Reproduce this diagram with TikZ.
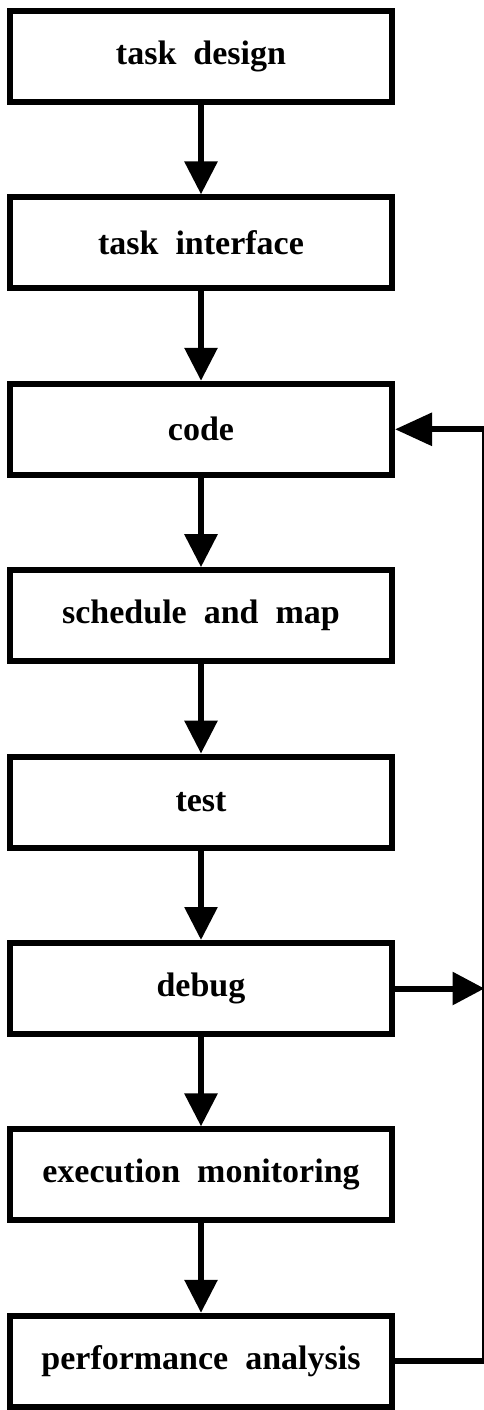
\documentclass[tikz,border=0pt]{standalone}
\usepackage{fontspec}
\setmainfont{Liberation Serif}
\usetikzlibrary{arrows.meta}
\tikzset{
  stage/.style={draw=black, line width=6pt, fill=white, minimum width=382pt, minimum height=91pt,
    inner sep=0pt, font=\fontsize{34}{40}\selectfont\bfseries},
  flow/.style={line width=6pt, -{Triangle[width=32pt,length=33pt]}},
  side/.style={line width=2.5pt}
}
\newcommand{\ws}{\hspace{0.5em}}
\begin{document}
\begin{tikzpicture}[x=1pt,y=-1pt]
\useasboundingbox (0,0) rectangle (484,1410);
\node[stage] (n1) at (201,56.5) {task\ws design};
\node[stage] (n2) at (201,242.9) {task\ws interface};
\node[stage] (n3) at (201,429.3) {code};
\node[stage] (n4) at (201,615.7) {schedule\ws and\ws map};
\node[stage] (n5) at (201,802.1) {test};
\node[stage] (n6) at (201,988.5) {debug};
\node[stage] (n7) at (201,1174.9) {execution\ws monitoring};
\node[stage] (n8) at (201,1361.3) {performance\ws analysis};
\coordinate (R) at (483.5,0);
\draw[flow] (n1.south) -- (n2.north);
\draw[flow] (n2.south) -- (n3.north);
\draw[flow] (n3.south) -- (n4.north);
\draw[flow] (n4.south) -- (n5.north);
\draw[flow] (n5.south) -- (n6.north);
\draw[flow] (n6.south) -- (n7.north);
\draw[flow] (n7.south) -- (n8.north);
\draw[line width=6pt] (n8.east) -- (n8.east -| R);
\draw[side] (n8.east -| R) -- (n3.east -| R);
\draw[line width=6pt, -{Triangle[width=32pt,length=37pt]}] (n3.east -| R) -- (n3.east);
\draw[line width=6pt, -{Triangle[width=32pt,length=32pt]}] (n6.east) -- ([xshift=1pt]n6.east -| R);
\end{tikzpicture}
\end{document}
